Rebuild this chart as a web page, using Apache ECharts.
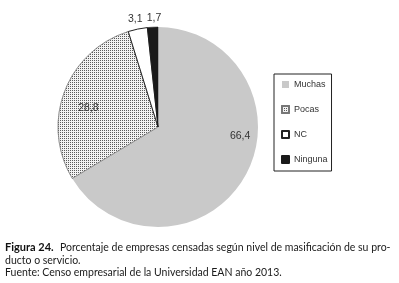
<!DOCTYPE html>
<html><head><meta charset="utf-8">
<script src="https://cdn.jsdelivr.net/npm/echarts@6/dist/echarts.min.js"></script>
<style>html,body{margin:0;padding:0;background:#fff}#c{width:399px;height:283px}</style>
</head><body><div id="c"></div>
<script>
const categories = ['Muchas', 'Pocas', 'NC', 'Ninguna'];
const values = [66.4, 28.8, 3.1, 1.7];
const labelTexts = ['66,4', '28,8', '3,1', '1,7'];
const captionLines = [
  'Porcentaje de empresas censadas según nivel de masificación de su pro-',
  'ducto o servicio.',
  'Fuente: Censo empresarial de la Universidad EAN año 2013.'
];
const captionLead = 'Figura 24.';

const chart = echarts.init(document.getElementById('c'), null, {renderer: 'canvas'});
const styles = [
  {itemStyle: {color: '#c9c9c9', borderColor: '#c9c9c9', borderWidth: 0},
   label: {position: 'inside', offset: [36, -17]}},
  {itemStyle: {color: '#f2f2f2', borderColor: '#777', borderWidth: 0.5,
     decal: {symbol: 'rect', symbolSize: 1, dashArrayX: [1, 1], dashArrayY: [1, 1], color: '#5a5a5a', rotation: 0}},
   label: {position: 'inside', offset: [-20, 0]}},
  {itemStyle: {color: '#ffffff', borderColor: '#222', borderWidth: 1},
   label: {position: 'outside', offset: [11, -4]}},
  {itemStyle: {color: '#1a1a1a', borderColor: '#1a1a1a', borderWidth: 0.5},
   label: {position: 'outside', offset: [14, -3]}}
];
const data = categories.map((n, i) => ({
  name: n, value: values[i],
  itemStyle: styles[i].itemStyle,
  label: Object.assign({show: true, formatter: labelTexts[i]}, styles[i].label),
  labelLine: {show: false, length: 6, length2: 0}
}));
const labelFont = {fontFamily: 'Liberation Sans, Arial', fontSize: 10.5, color: '#333'};
const capFont = '"Lato", "Liberation Sans"';
chart.setOption({
  animation: false,
  legend: {
    orient: 'vertical', left: 274, top: 74,
    padding: [6, 4, 7, 7], itemGap: 16, itemWidth: 7, itemHeight: 7,
    borderColor: '#222', borderWidth: 1,
    textStyle: {fontFamily: 'Liberation Sans, Arial', fontSize: 9, color: '#333', width: 62},
    data: categories.map(n => ({name: n, icon: 'rect'}))
  },
  series: [{
    type: 'pie', center: [158, 127], radius: 100, startAngle: 90, clockwise: true,
    avoidLabelOverlap: false, silent: true,
    label: Object.assign({}, labelFont),
    data: data
  }],
  graphic: [
    {type: 'text', left: 5, top: 242, style: {text: captionLead, font: 'bold 11px ' + capFont, fill: '#111'}},
    {type: 'text', left: 60, top: 242, style: {text: captionLines[0], font: '10.5px ' + capFont, fill: '#1a1a1a'}},
    {type: 'text', left: 5, top: 255, style: {text: captionLines[1], font: '10.5px ' + capFont, fill: '#1a1a1a'}},
    {type: 'text', left: 5, top: 267, style: {text: captionLines[2], font: '10.5px ' + capFont, fill: '#1a1a1a'}}
  ]
});
</script></body></html>
